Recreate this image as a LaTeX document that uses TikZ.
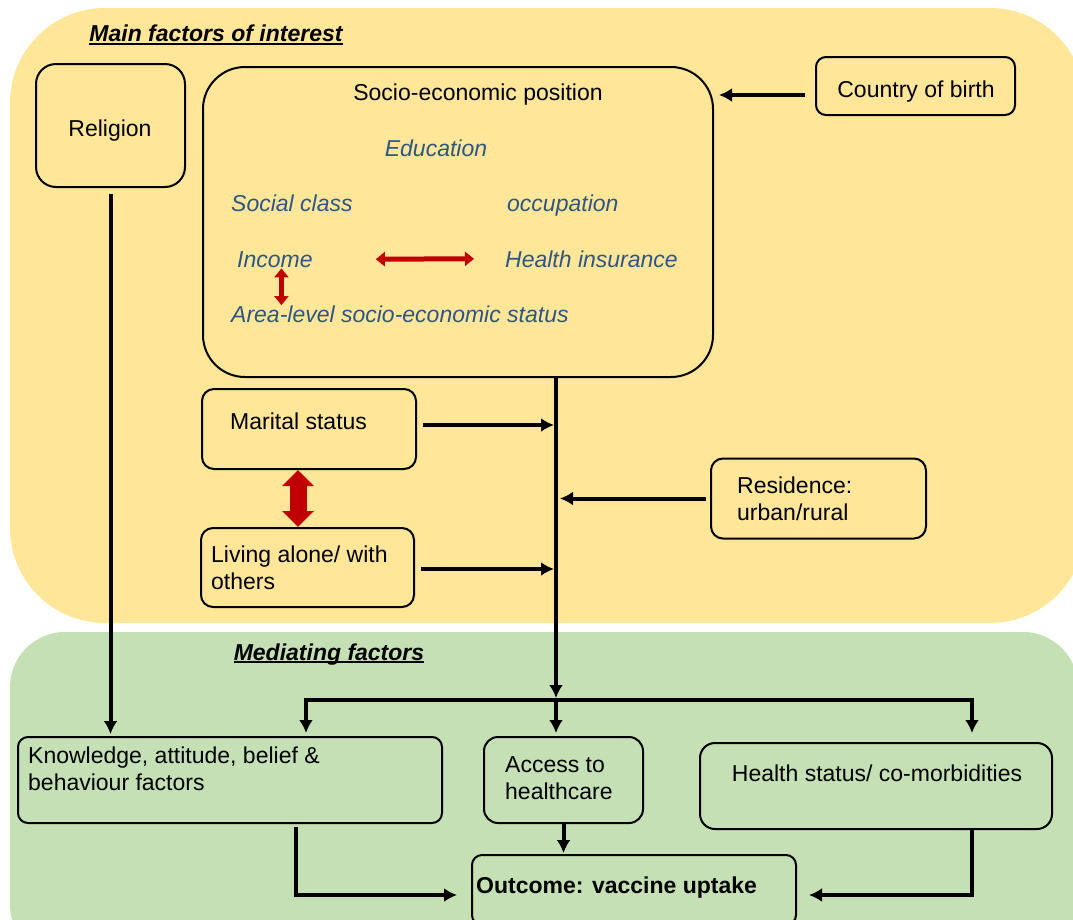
\documentclass[tikz,border=0pt]{standalone}
\usepackage{fontspec}
\setmainfont{Liberation Sans}
\usepackage{xcolor}
\usepackage{tikz}
\usetikzlibrary{arrows.meta, positioning}

\definecolor{panelyellow}{HTML}{FFE699}
\definecolor{panelgreen}{HTML}{C5E0B4}
\definecolor{factorblue}{HTML}{2F5683}
\definecolor{linkred}{HTML}{C00000}

\tikzset{
    box/.style={draw, line width=2pt, rounded corners=12pt, inner sep=0pt},
    txt/.style={inner sep=0pt, font=\fontsize{23}{27}\selectfont},
    factor/.style={txt, text=factorblue, font=\fontsize{23}{27}\selectfont\itshape},
    conn/.style={line width=4pt, ->},
    redlink/.style={draw=linkred, line width=5pt,
        {Triangle[length=9pt,width=14pt]}-{Triangle[length=9pt,width=14pt]}},
}

\begin{document}
\begin{tikzpicture}[>={Latex[length=13pt,width=14pt]}, x=1pt, y=-1pt]
    \useasboundingbox (0,0) rectangle (1073,919);
    \clip (0,0) rectangle (1073,919);

    % Hai vùng nền
    \fill[panelyellow, rounded corners=95pt] (10,8) rectangle (1085,623);
    \fill[panelgreen, rounded corners=55pt] (10,632) rectangle (1078,960);

    % Tiêu đề các vùng
    \node[txt, anchor=base, font=\fontsize{23}{27}\selectfont\bfseries\itshape] (maintitle) at (216,41) {Main factors of interest};
    \draw[line width=1.6pt] ([yshift=-3pt]maintitle.base west) -- ([yshift=-3pt]maintitle.base east);
    \node[txt, anchor=base, font=\fontsize{23}{27}\selectfont\bfseries\itshape] (medtitle) at (329,660) {Mediating factors};
    \draw[line width=1.6pt] ([yshift=-2pt]medtitle.base west) -- ([yshift=-2pt]medtitle.base east);

    % Các khung yếu tố chính
    \node[box, rounded corners=20pt, minimum width=149pt, minimum height=123pt] (religion) at (110.5,125.5) {};
    \node[box, rounded corners=42pt, minimum width=510pt, minimum height=310pt] (sep) at (458,222) {};
    \node[box, rounded corners=10pt, minimum width=199pt, minimum height=58pt] (country) at (915.5,86) {};
    \node[box, minimum width=214pt, minimum height=80pt] (marital) at (309,429) {};
    \node[box, minimum width=213pt, minimum height=79pt] (living) at (307.5,567.5) {};
    \node[box, minimum width=215pt, minimum height=80pt] (residence) at (818.5,498.5) {};

    % Các khung trung gian
    \node[box, rounded corners=10pt, minimum width=424pt, minimum height=86pt] (knowledge) at (230,780) {};
    \node[box, rounded corners=14pt, minimum width=159pt, minimum height=86pt] (access) at (563.5,780) {};
    \node[box, rounded corners=15pt, minimum width=352pt, minimum height=86pt] (health) at (876,786) {};
    \node[box, rounded corners=10pt, minimum width=324pt, minimum height=70pt] (outcome) at (634,890) {};

    % Chữ trong khung
    \node[txt, anchor=base] (religiontxt) at (110,136) {Religion};
    \node[txt, anchor=base] (septxt) at (478,100) {Socio-economic position};
    \node[factor, anchor=base] (education) at (436,156) {Education};
    \node[factor, anchor=base west] (social) at (231,211) {Social class};
    \node[factor, anchor=base west] (occupation) at (507,211) {occupation};
    \node[factor, anchor=base west] (income) at (237,267) {Income};
    \node[factor, anchor=base west] (insurance) at (505,267) {Health insurance};
    \node[factor, anchor=base west] (area) at (231,322) {Area-level socio-economic status};
    \node[txt, anchor=base] (countrytxt) at (916,97) {Country of birth};
    \node[txt, anchor=base west] (maritaltxt) at (230,429) {Marital status};
    \node[txt, anchor=north west, align=left] (livingtxt) at (211,546) {Living alone/ with\\others};
    \node[txt, anchor=north west, align=left] (residencetxt) at (737,477) {Residence:\\urban/rural};
    \node[txt, anchor=north west, align=left] (knowledgetxt) at (28,747) {Knowledge, attitude, belief \&\\behaviour factors};
    \node[txt, anchor=north west, align=left] (accesstxt) at (505,756) {Access to\\healthcare};
    \node[txt, anchor=base] (healthtxt) at (877,781) {Health status/ co-morbidities};
    \node[txt, anchor=base west, font=\fontsize{23}{27}\selectfont\bfseries] (outcometxt) at (476,893) {Outcome: vaccine uptake};

    % Mũi tên đỏ
    \draw[redlink] ([xshift=63pt]income.east) -- ([xshift=-31pt]insurance.west);
    \draw[redlink, line width=4.5pt] ([xshift=6.5pt,yshift=-1pt]income.south) -- ([xshift=6.5pt]income.south |- area.north);
    \draw[linkred, line width=17pt, {Triangle[length=16pt,width=31pt]}-{Triangle[length=16pt,width=31pt]}]
        ([xshift=-11pt]marital.south) -- ([xshift=-11pt]marital.south |- living.north);

    % Trục chính và các mũi tên
    \coordinate (split) at (556,700);
    \draw[conn] (sep.south -| split) -- ([yshift=2pt]split);
    \draw[conn, shorten >=2pt] ([xshift=6pt,yshift=4pt]marital.east) -- ([yshift=4pt]marital.east -| split);
    \draw[conn, shorten >=2pt] ([xshift=6pt,yshift=-1.5pt]living.east) -- ([yshift=-1.5pt]living.east -| split);
    \draw[conn, shorten >=4pt] ([xshift=-4pt]residence.west) -- (residence.west -| split);
    \draw[conn, shorten >=5pt] ([xshift=-10pt,yshift=-9pt]country.west) -- ([yshift=-9pt]country.west -| sep.east);
    \draw[conn, shorten >=2pt] ([yshift=-6pt]religion.south) -- (religion.south |- knowledge.north);

    \draw[conn, shorten >=3pt] (split) -| ([xshift=76pt]knowledge.north);
    \draw[conn, shorten >=3pt] (split) -- (split |- access.north);
    \draw[conn, shorten >=9pt] (split) -| ([xshift=96pt]health.north);

    % Vào kết quả
    \draw[conn] ([xshift=66pt,yshift=-3pt]knowledge.south) |- ([xshift=-14pt,yshift=-5pt]outcome.west);
    \draw[conn, shorten >=1pt] (access.south) -- (access.south |- outcome.north);
    \draw[conn] ([xshift=96pt]health.south) |- ([xshift=12pt,yshift=-5pt]outcome.east);
\end{tikzpicture}
\end{document}
